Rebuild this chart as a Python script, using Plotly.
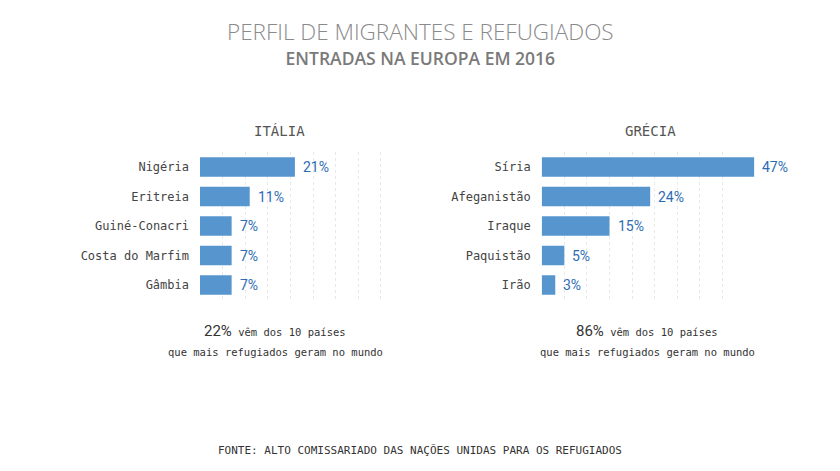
import plotly.graph_objects as go

# ---- data ----
italia_paises = ["Nigéria", "Eritreia", "Guiné-Conacri", "Costa do Marfim", "Gâmbia"]
italia_valores = [21, 11, 7, 7, 7]
grecia_paises = ["Síria", "Afeganistão", "Iraque", "Paquistão", "Irão"]
grecia_valores = [47, 24, 15, 5, 3]
italia_top10 = 22
grecia_top10 = 86
grid_ticks = [5, 10, 15, 20, 25, 30, 35, 40]

titulo = "PERFIL DE MIGRANTES E REFUGIADOS"
subtitulo = "ENTRADAS NA EUROPA EM 2016"
fonte = "FONTE: ALTO COMISSARIADO DAS NAÇÕES UNIDAS PARA OS REFUGIADOS"

OFF = 8  # page body margin
W, H = 840 - OFF, 471 - OFF
BAR_COLOR = "#5795cf"
VAL_COLOR = "#2d6cb5"
MONO = "DejaVu Sans Mono"


def px_x(px):
    return (px - OFF) / W


def px_y(px):
    return 1 - (px - OFF) / H


fig = go.Figure()
fig.add_trace(go.Bar(x=italia_valores, y=italia_paises, orientation="h",
                     marker=dict(color=BAR_COLOR, line=dict(width=0)),
                     xaxis="x", yaxis="y", hoverinfo="skip"))
fig.add_trace(go.Bar(x=grecia_valores, y=grecia_paises, orientation="h",
                     marker=dict(color=BAR_COLOR, line=dict(width=0)),
                     xaxis="x2", yaxis="y2", hoverinfo="skip"))

ydom = [px_y(299.75), px_y(152.25)]
xaxis_common = dict(range=[0, 50], tickvals=grid_ticks, showticklabels=False,
                    showgrid=True, gridcolor="#e8e8e8", griddash="dot", gridwidth=1,
                    zeroline=False, showline=False, fixedrange=True)
yaxis_common = dict(type="category", autorange="reversed", showgrid=False,
                    zeroline=False, showline=False, ticks="",
                    ticklabelstandoff=10,
                    tickfont=dict(family=MONO, size=12, color="#444444"),
                    domain=ydom, fixedrange=True)

fig.update_layout(
    width=W, height=H,
    margin=dict(l=0, r=0, t=0, b=0),
    paper_bgcolor="white", plot_bgcolor="white",
    showlegend=False, bargap=0.345,
    xaxis=dict(domain=[px_x(200), px_x(426)], anchor="y", **xaxis_common),
    yaxis=dict(anchor="x", categoryorder="array", categoryarray=italia_paises, **yaxis_common),
    xaxis2=dict(domain=[px_x(541.7), px_x(767.7)], anchor="y2", **xaxis_common),
    yaxis2=dict(anchor="x2", categoryorder="array", categoryarray=grecia_paises, **yaxis_common),
)

ann = []
# value labels
for xr, yr, cats, vals in [("x", "y", italia_paises, italia_valores),
                           ("x2", "y2", grecia_paises, grecia_valores)]:
    for c, v in zip(cats, vals):
        ann.append(dict(x=v, y=c, xref=xr, yref=yr, text=f"{v}%", showarrow=False,
                        xanchor="left", yanchor="middle", xshift=6,
                        font=dict(family="Roboto", size=14, color=VAL_COLOR)))

# title + subtitle (one block, two lines)
ann.append(dict(
    x=px_x(420), y=px_y(72), xref="paper", yref="paper",
    text=(f"<span style='font-size:22.5px;font-weight:300;color:#8a8a8a'>{titulo}</span>"
          f"<br><span style='font-size:17.5px;font-weight:600'>{subtitulo}</span>"),
    showarrow=False, xanchor="center", yanchor="bottom", align="center",
    font=dict(family="Open Sans", size=19.5, color="#7a7a7a")))
# panel titles
ann.append(dict(x=px_x(279), y=px_y(131), xref="paper", yref="paper", text="ITÁLIA",
                showarrow=False, xanchor="center", yanchor="middle",
                font=dict(family=MONO, size=14, color="#555555")))
ann.append(dict(x=px_x(650), y=px_y(131), xref="paper", yref="paper", text="GRÉCIA",
                showarrow=False, xanchor="center", yanchor="middle",
                font=dict(family=MONO, size=14, color="#555555")))
# notes
for cx, pct in [(275, italia_top10), (647, grecia_top10)]:
    ann.append(dict(x=px_x(cx), y=px_y(331), xref="paper", yref="paper",
                    text=f"<span style='font-family:Roboto;font-size:15px'>{pct}%</span> vêm dos 10 países",
                    showarrow=False, xanchor="center", yanchor="middle",
                    font=dict(family=MONO, size=10.5, color="#333333")))
    ann.append(dict(x=px_x(cx), y=px_y(352), xref="paper", yref="paper",
                    text="que mais refugiados geram no mundo",
                    showarrow=False, xanchor="center", yanchor="middle",
                    font=dict(family=MONO, size=10.5, color="#333333")))
# source
ann.append(dict(x=px_x(420), y=px_y(450), xref="paper", yref="paper", text=fonte,
                showarrow=False, xanchor="center", yanchor="middle",
                font=dict(family=MONO, size=11, color="#333333")))

fig.update_layout(annotations=ann)
fig.write_html("out.html")
